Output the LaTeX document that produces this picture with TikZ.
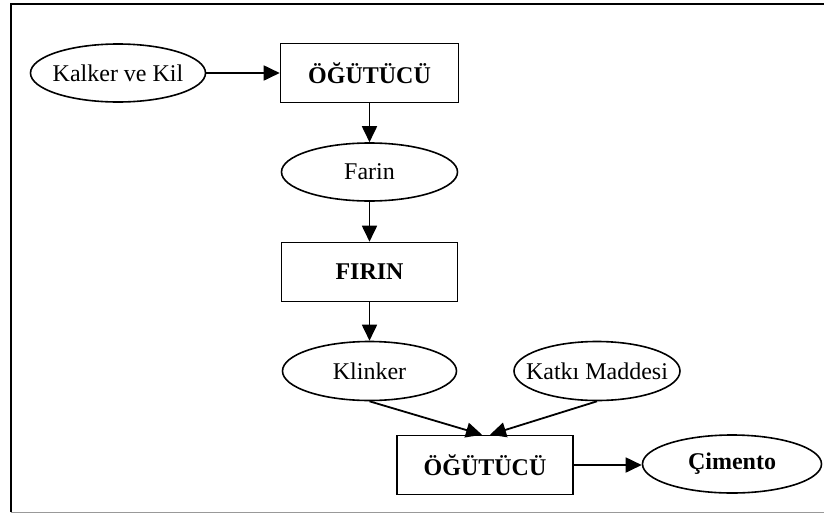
\documentclass[tikz,border=0pt]{standalone}
\usepackage{fontspec}
\setmainfont{Liberation Serif}
\usetikzlibrary{shapes.geometric,arrows.meta}
\newcommand{\lbl}[1]{\makebox[0pt]{#1}}
\begin{document}
\begin{tikzpicture}[x=1pt,y=-1pt,
  every node/.style={font=\fontsize{24}{28}\selectfont},
  oval/.style={draw,line width=1.6pt,ellipse,inner sep=0pt},
  unit/.style={draw,line width=1.6pt,rectangle,inner sep=0pt,font=\fontsize{24}{28}\selectfont\bfseries},
  flow/.style={line width=1.8pt,-{Triangle[length=16pt,width=15pt]}}]
\useasboundingbox (0,0) rectangle (824,517);
% frame
\draw[line width=1.5pt] (11,512) -- (11,4) -- (824,4);
\draw[line width=1pt,black!40] (11,512) -- (824,512);
% nodes
\node[oval,minimum width=175pt,minimum height=58pt] (kalker) at (118,73) {\lbl{Kalker ve Kil}};
\node[unit,minimum width=178pt,minimum height=59pt] (ogut1) at (369.5,73) {\lbl{ÖĞÜTÜCÜ}};
\node[oval,minimum width=176pt,minimum height=58pt] (farin) at (369.5,172) {\lbl{Farin}};
\node[unit,minimum width=176pt,minimum height=59pt] (firin) at (369.5,272) {\lbl{FIRIN}};
\node[oval,minimum width=174pt,minimum height=59pt] (klinker) at (369.5,371) {\lbl{Klinker}};
\node[oval,minimum width=166pt,minimum height=59pt] (katki) at (597,371) {\lbl{Katkı Maddesi}};
\node[unit,minimum width=176pt,minimum height=59pt] (ogut2) at (485,465) {\lbl{ÖĞÜTÜCÜ}};
\node[oval,minimum width=179pt,minimum height=58pt,font=\fontsize{24}{28}\selectfont\bfseries] (cimento) at (732,464) {\lbl{Çimento}};
% connectors
\draw[flow] (kalker.east) -- (ogut1.west);
\draw[flow] (ogut1.south) -- (farin.north);
\draw[flow] (farin.south) -- (firin.north);
\draw[flow] (firin.south) -- (klinker.north);
\draw[flow] (klinker.south) -- ([xshift=-3pt]ogut2.north);
\draw[flow] (katki.south) -- ([xshift=5pt]ogut2.north);
\draw[flow] (ogut2.east) -- (ogut2.east -| cimento.west);
\end{tikzpicture}
\end{document}
